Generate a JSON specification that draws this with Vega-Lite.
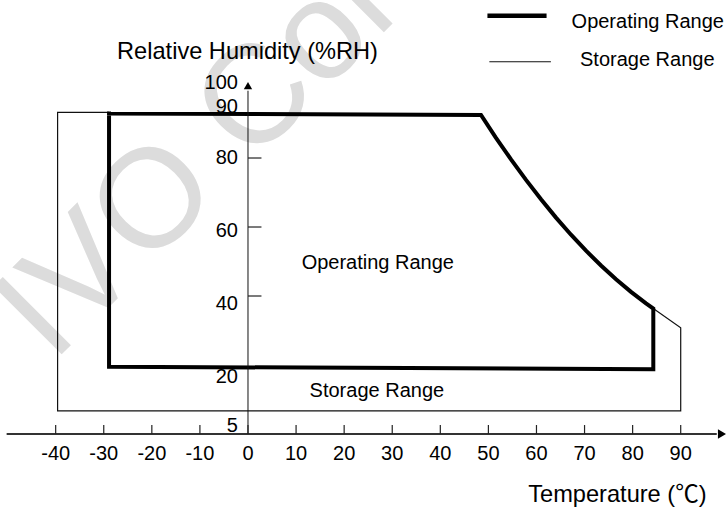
{
  "$schema": "https://vega.github.io/schema/vega-lite/v6.json",
  "width": 726,
  "height": 508,
  "autosize": {"type": "none"},
  "padding": 0,
  "background": "white",
  "data": {"values": [{}]},
  "config": {"view": {"stroke": null}, "text": {"font": "Liberation Sans, Noto Sans CJK SC", "color": "black"}},
  "datasets": {
    "ranges": [
      {"series": "Operating", "order": 1, "temp": -28.9, "rh": 92.9},
      {"series": "Operating", "order": 2, "temp": 48.46, "rh": 92.46},
      {"series": "Operating", "order": 3, "temp": 51.58, "rh": 85.86},
      {"series": "Operating", "order": 4, "temp": 54.70, "rh": 79.59},
      {"series": "Operating", "order": 5, "temp": 57.82, "rh": 73.65},
      {"series": "Operating", "order": 6, "temp": 60.94, "rh": 68.03},
      {"series": "Operating", "order": 7, "temp": 64.06, "rh": 62.72},
      {"series": "Operating", "order": 8, "temp": 67.18, "rh": 57.77},
      {"series": "Operating", "order": 9, "temp": 70.30, "rh": 53.13},
      {"series": "Operating", "order": 10, "temp": 73.42, "rh": 48.84},
      {"series": "Operating", "order": 11, "temp": 76.54, "rh": 44.84},
      {"series": "Operating", "order": 12, "temp": 79.66, "rh": 41.19},
      {"series": "Operating", "order": 13, "temp": 82.78, "rh": 37.86},
      {"series": "Operating", "order": 14, "temp": 84.30, "rh": 36.38},
      {"series": "Operating", "order": 15, "temp": 84.30, "rh": 18.8},
      {"series": "Operating", "order": 16, "temp": -28.9, "rh": 19.5},
      {"series": "Operating", "order": 17, "temp": -28.9, "rh": 92.9},
      {"series": "Storage", "order": 1, "temp": -28.9, "rh": 93.2},
      {"series": "Storage", "order": 2, "temp": -39.6, "rh": 93.2},
      {"series": "Storage", "order": 3, "temp": -39.6, "rh": 6.7},
      {"series": "Storage", "order": 4, "temp": 90.0, "rh": 6.7},
      {"series": "Storage", "order": 5, "temp": 90.0, "rh": 30.8},
      {"series": "Storage", "order": 6, "temp": 84.3, "rh": 36.4}
    ],
    "xticks": [
      {"t": -40}, {"t": -30}, {"t": -20}, {"t": -10}, {"t": 0}, {"t": 10}, {"t": 20},
      {"t": 30}, {"t": 40}, {"t": 50}, {"t": 60}, {"t": 70}, {"t": 80}, {"t": 90}
    ],
    "yticks": [
      {"label": "100", "pos": 99.9, "tick": false},
      {"label": "90", "pos": 93.0, "tick": false},
      {"label": "80", "pos": 78.3, "tick": true, "v": 80},
      {"label": "60", "pos": 57.2, "tick": true, "v": 60},
      {"label": "40", "pos": 35.9, "tick": true, "v": 40},
      {"label": "20", "pos": 14.7, "tick": false},
      {"label": "5", "pos": 0.67, "tick": false}
    ]
  },
  "layer": [
    {
      "data": {"values": [{"w": "IVO Confidential"}]},
      "mark": {"type": "text", "angle": -45, "fontSize": 140, "color": "#dcdcdc", "align": "left", "baseline": "alphabetic", "clip": true},
      "encoding": {
        "text": {"field": "w"},
        "x": {"datum": -40.66, "type": "quantitative", "scale": {"domain": [-51.58, 99.42], "nice": false, "zero": false}, "axis": null},
        "y": {"datum": 20.4, "type": "quantitative", "scale": {"domain": [-21.45, 125.8], "nice": false, "zero": false}, "axis": null}
      }
    },
    {
      "data": {"name": "ranges"},
      "transform": [{"filter": "datum.series === 'Storage'"}],
      "mark": {"type": "line", "stroke": "#111", "strokeWidth": 1.2, "strokeJoin": "miter"},
      "encoding": {
        "x": {"field": "temp", "type": "quantitative", "axis": null},
        "y": {"field": "rh", "type": "quantitative", "axis": null},
        "order": {"field": "order"}
      }
    },
    {
      "data": {"name": "ranges"},
      "transform": [{"filter": "datum.series === 'Operating'"}],
      "mark": {"type": "line", "stroke": "black", "strokeWidth": 4, "strokeJoin": "miter", "strokeCap": "square"},
      "encoding": {
        "x": {"field": "temp", "type": "quantitative", "axis": null},
        "y": {"field": "rh", "type": "quantitative", "axis": null},
        "order": {"field": "order"}
      }
    },
    {
      "mark": {"type": "rule", "stroke": "#333", "strokeWidth": 2},
      "encoding": {
        "x": {"datum": -50.2, "type": "quantitative"},
        "x2": {"datum": 97.5},
        "y": {"datum": 0, "type": "quantitative"}
      }
    },
    {
      "mark": {"type": "rule", "stroke": "#111", "strokeWidth": 1},
      "encoding": {
        "x": {"datum": 0, "type": "quantitative"},
        "y": {"datum": 0, "type": "quantitative"},
        "y2": {"datum": 99.5}
      }
    },
    {
      "data": {"name": "xticks"},
      "mark": {"type": "rule", "stroke": "#222", "strokeWidth": 1.2},
      "encoding": {
        "x": {"field": "t", "type": "quantitative"},
        "y": {"datum": 0, "type": "quantitative"},
        "y2": {"datum": 2.6}
      }
    },
    {
      "data": {"name": "yticks"},
      "transform": [{"filter": "datum.tick"}],
      "mark": {"type": "rule", "stroke": "#222", "strokeWidth": 1.2},
      "encoding": {
        "y": {"field": "v", "type": "quantitative"},
        "x": {"datum": 0, "type": "quantitative"},
        "x2": {"datum": 2.8}
      }
    },
    {
      "mark": {"type": "point", "shape": "triangle-right", "filled": true, "color": "black", "size": 90, "opacity": 1},
      "encoding": {
        "x": {"datum": 98.6, "type": "quantitative"},
        "y": {"datum": 0, "type": "quantitative"}
      }
    },
    {
      "mark": {"type": "point", "shape": "triangle-up", "filled": true, "color": "black", "size": 70, "opacity": 1},
      "encoding": {
        "x": {"datum": 0, "type": "quantitative"},
        "y": {"datum": 101.0, "type": "quantitative"}
      }
    },
    {
      "data": {"name": "xticks"},
      "mark": {"type": "text", "fontSize": 20, "align": "center", "baseline": "alphabetic"},
      "encoding": {
        "x": {"field": "t", "type": "quantitative"},
        "y": {"datum": -7.5, "type": "quantitative"},
        "text": {"field": "t"}
      }
    },
    {
      "data": {"name": "yticks"},
      "mark": {"type": "text", "fontSize": 20, "align": "right", "baseline": "alphabetic", "dx": -10},
      "encoding": {
        "x": {"datum": 0, "type": "quantitative"},
        "y": {"field": "pos", "type": "quantitative"},
        "text": {"field": "label"}
      }
    },
    {
      "mark": {"type": "text", "text": "Relative Humidity (%RH)", "fontSize": 23.6, "align": "center", "baseline": "alphabetic"},
      "encoding": {
        "x": {"datum": -0.1, "type": "quantitative"},
        "y": {"datum": 108.6, "type": "quantitative"}
      }
    },
    {
      "mark": {"type": "text", "text": "Temperature (℃)", "fontSize": 23.6, "align": "left", "baseline": "alphabetic"},
      "encoding": {
        "x": {"datum": 58.3, "type": "quantitative"},
        "y": {"datum": -19.7, "type": "quantitative"}
      }
    },
    {
      "mark": {"type": "text", "text": "Operating Range", "fontSize": 20, "align": "center", "baseline": "alphabetic"},
      "encoding": {
        "x": {"datum": 27.0, "type": "quantitative"},
        "y": {"datum": 47.8, "type": "quantitative"}
      }
    },
    {
      "mark": {"type": "text", "text": "Storage Range", "fontSize": 20, "align": "center", "baseline": "alphabetic"},
      "encoding": {
        "x": {"datum": 26.8, "type": "quantitative"},
        "y": {"datum": 10.7, "type": "quantitative"}
      }
    },
    {
      "mark": {"type": "rule", "stroke": "black", "strokeWidth": 4.5},
      "encoding": {
        "x": {"datum": 49.8, "type": "quantitative"},
        "x2": {"datum": 62.1},
        "y": {"datum": 121.2, "type": "quantitative"}
      }
    },
    {
      "mark": {"type": "rule", "stroke": "#111", "strokeWidth": 1},
      "encoding": {
        "x": {"datum": 50.2, "type": "quantitative"},
        "x2": {"datum": 63.0},
        "y": {"datum": 107.9, "type": "quantitative"}
      }
    },
    {
      "mark": {"type": "text", "text": "Operating Range", "fontSize": 20, "align": "left", "baseline": "alphabetic"},
      "encoding": {
        "x": {"datum": 67.3, "type": "quantitative"},
        "y": {"datum": 117.8, "type": "quantitative"}
      }
    },
    {
      "mark": {"type": "text", "text": "Storage Range", "fontSize": 20, "align": "left", "baseline": "alphabetic"},
      "encoding": {
        "x": {"datum": 69.05, "type": "quantitative"},
        "y": {"datum": 106.7, "type": "quantitative"}
      }
    }
  ]
}
